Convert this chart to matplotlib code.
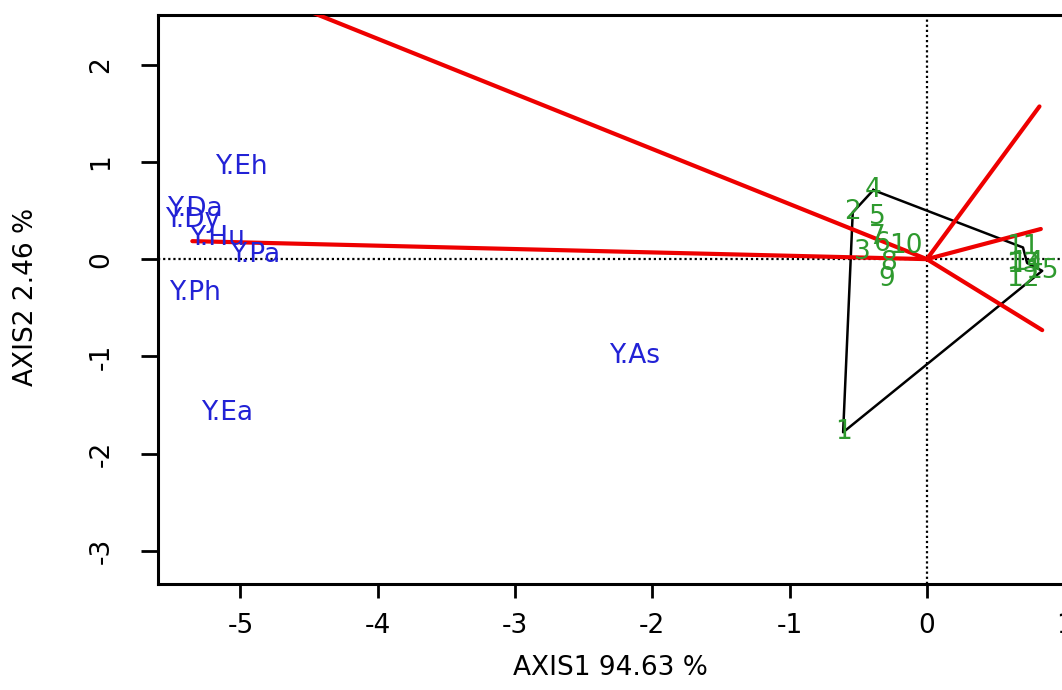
import matplotlib
matplotlib.use("Agg")
import matplotlib.pyplot as plt

plt.rcParams['font.family'] = ['DejaVu Sans']

# Genotype scores (AXIS1, AXIS2)
gen_labels = ["1", "2", "3", "4", "5", "6", "7", "8", "9", "10",
              "11", "12", "13", "14", "15"]
gen_x = [-0.61, -0.54, -0.47, -0.39, -0.36, -0.33, -0.36, -0.28, -0.29, -0.15,
         0.70, 0.70, 0.70, 0.73, 0.84]
gen_y = [-1.78, 0.48, 0.07, 0.71, 0.43, 0.16, 0.23, -0.04, -0.20, 0.14,
         0.12, -0.20, -0.06, -0.04, -0.12]

# Environment scores
env_labels = ["Y.Eh", "Y.Da", "Y.Dy", "Y.Hu", "Y.Pa", "Y.Ph", "Y.Ea", "Y.As"]
env_x = [-4.99, -5.33, -5.35, -5.17, -4.89, -5.33, -5.10, -2.13]
env_y = [0.945, 0.52, 0.40, 0.22, 0.04, -0.35, -1.58, -1.00]

# Convex hull (polygon) vertices, by genotype label
hull_order = ["4", "11", "14", "15", "1", "2", "4"]

# Sector rays from origin (end points)
ray_x = [-5.35, -5.35, 0.82, 0.83, 0.84]
ray_y = [3.03, 0.185, 1.57, 0.31, -0.73]

x_ticks = [-5, -4, -3, -2, -1, 0, 1]
y_ticks = [-3, -2, -1, 0, 1, 2]
xlab = "AXIS1 94.63 %"
ylab = "AXIS2 2.46 %"

W, H = 1062, 690
fig = plt.figure(figsize=(W / 100, H / 100), dpi=100)
ax = fig.add_axes([158 / W, (690 - 584) / H, 940.5 / W, 569 / H])
ax.set_xlim(-5.6, 1.25)
ax.set_ylim(-3.34, 2.51)

fs = 19
green = "#2E9A2E"
blue = "#2222D6"

ax.axhline(0, color="black", ls=(0, (1.0, 1.3)), lw=1.6, zorder=1)
ax.axvline(0, color="black", ls=(0, (1.0, 1.3)), lw=1.6, zorder=1)

idx = {l: i for i, l in enumerate(gen_labels)}
hx = [gen_x[idx[l]] for l in hull_order]
hy = [gen_y[idx[l]] for l in hull_order]
ax.plot(hx, hy, color="black", lw=1.8, zorder=2)

for rx, ry in zip(ray_x, ray_y):
    ax.plot([0, rx], [0, ry], color="#EE0000", lw=3.0, zorder=3, solid_capstyle="round")

for l, x, y in zip(gen_labels, gen_x, gen_y):
    ax.text(x, y, l, color=green, fontsize=fs, ha="center", va="center", zorder=4)

for l, x, y in zip(env_labels, env_x, env_y):
    ax.text(x, y, l, color=blue, fontsize=fs, ha="center", va="center", zorder=4)

ax.set_xticks(x_ticks)
ax.set_yticks(y_ticks)
ax.set_xticklabels([str(t) for t in x_ticks])
ax.set_yticklabels([str(t) for t in y_ticks], rotation=90, va="center")
ax.tick_params(axis="x", length=10, width=2.0, pad=11, labelsize=fs)
ax.tick_params(axis="y", length=12.5, width=2.0, pad=19, labelsize=fs)
for s in ax.spines.values():
    s.set_linewidth(2.2)

ax.set_xlabel(xlab, fontsize=fs)
ax.xaxis.set_label_coords((610 - 158) / 940.5, (584 - 668) / 569)
ax.xaxis.label.set_va("center")
ax.set_ylabel(ylab, fontsize=fs)
ax.yaxis.set_label_coords((26 - 158) / 940.5, (584 - 297) / 569)
ax.yaxis.label.set_va("center")

fig.savefig("out.png", dpi=100)
